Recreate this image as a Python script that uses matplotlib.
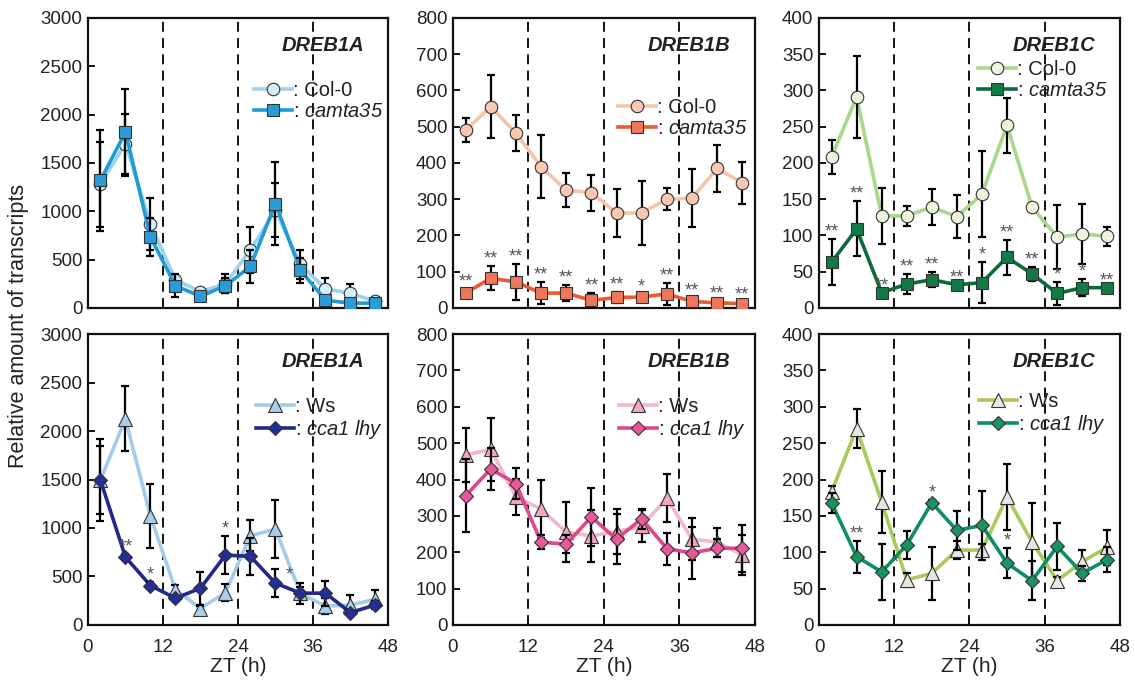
import matplotlib
matplotlib.use('Agg')
import matplotlib.pyplot as plt

plt.rcParams['font.family'] = ['Liberation Sans', 'DejaVu Sans']
plt.rcParams['mathtext.fontset'] = 'custom'
plt.rcParams['mathtext.rm'] = 'Liberation Sans:italic'
plt.rcParams['mathtext.it'] = 'Liberation Sans:italic'

TICK_SIZE = 13.5
LABEL_SIZE = 15
GENE_SIZE = 14.5
LEGEND_SIZE = 14.5
TEXT_COLOR = '#222222'

# sampling times (ZT, h)
zt = [2, 6, 10, 14, 18, 22, 26, 30, 34, 38, 42, 46]

# --- top row: Col-0 vs camta35 ---
col_a = [1280, 1700, 870, 290, 170, 250, 600, 1010, 450, 200, 150, 70]
col_a_err = [440, 310, 270, 30, 30, 100, 240, 280, 150, 110, 100, 10]
cam_a = [1320, 1820, 735, 230, 120, 230, 430, 1080, 390, 80, 50, 50]
cam_a_err = [520, 450, 200, 120, 30, 80, 170, 430, 130, 30, 20, 10]
stars_cam_a = [''] * 12

col_b = [490, 555, 482, 390, 325, 318, 262, 262, 300, 303, 385, 345]
col_b_err = [33, 87, 49, 87, 47, 50, 65, 87, 30, 80, 65, 58]
cam_b = [41, 82, 72, 41, 41, 21, 29, 30, 39, 18, 14, 12]
cam_b_err = [12, 33, 50, 30, 23, 20, 15, 8, 30, 8, 5, 5]
stars_cam_b = ['**', '**', '**', '**', '**', '**', '**', '*', '**', '**', '**', '**']

col_c = [208, 291, 127, 127, 139, 126, 157, 252, 139, 98, 102, 99]
col_c_err = [23, 56, 39, 14, 25, 30, 59, 38, 0, 44, 42, 13]
cam_c = [63, 109, 21, 33, 39, 32, 35, 70, 47, 20, 28, 28]
cam_c_err = [32, 38, 0, 14, 10, 0, 28, 24, 10, 16, 12, 0]
stars_cam_c = ['**', '**', '**', '**', '**', '**', '*', '**', '**', '*', '*', '**']

# --- bottom row: Ws vs cca1 lhy ---
ws_a = [1495, 2125, 1121, 365, 170, 335, 921, 988, 325, 195, 205, 266]
ws_a_err = [420, 335, 330, 50, 30, 85, 160, 300, 70, 80, 100, 95]
cca_a = [1493, 700, 407, 276, 379, 721, 707, 431, 328, 328, 128, 207]
cca_a_err = [350, 30, 40, 20, 170, 200, 190, 145, 110, 130, 30, 40]
stars_cca_a = ['', '**', '*', '', '', '*', '', '*', '', '', '', '']

ws_b = [467, 483, 352, 319, 255, 245, 257, 271, 349, 236, 228, 193]
ws_b_err = [75, 87, 50, 80, 83, 72, 62, 44, 65, 58, 40, 55]
cca_b = [355, 429, 389, 228, 222, 297, 236, 292, 210, 198, 211, 211]
cca_b_err = [100, 57, 43, 20, 25, 80, 68, 27, 44, 72, 25, 65]
stars_cca_b = [''] * 12

ws_c = [183, 270, 169, 62, 71, 103, 103, 176, 114, 61, 87, 107]
ws_c_err = [8, 27, 42, 10, 36, 12, 8, 45, 54, 5, 16, 24]
cca_c = [168, 94, 73, 110, 168, 130, 137, 85, 61, 108, 71, 90]
cca_c_err = [14, 22, 38, 19, 4, 27, 47, 21, 27, 32, 10, 17]
stars_cca_c = ['', '**', '*', '', '*', '', '', '*', '', '', '', '']

genes = ['DREB1A', 'DREB1B', 'DREB1C']
y_max = [3000, 800, 400]
y_step = [500, 100, 50]


def draw_series(ax, y, err, line_color, face_color, marker, msize, label, z):
    ax.plot(zt, y, color=line_color, lw=2.6, zorder=z, solid_joinstyle='round')
    ax.errorbar(zt, y, yerr=err, fmt='none', ecolor='black', elinewidth=1.6,
                capsize=3, capthick=1.6, zorder=z + 0.5)
    ax.plot(zt, y, linestyle='none', marker=marker, markersize=msize,
            markerfacecolor=face_color, markeredgecolor='#333333',
            markeredgewidth=0.8, zorder=z + 0.8)
    # proxy handle for the legend: line with marker
    handle, = ax.plot([], [], color=line_color, lw=2.6, marker=marker,
                      markersize=msize, markerfacecolor=face_color,
                      markeredgecolor='#333333', markeredgewidth=0.8)
    handle.set_label(label)
    return handle


def draw_stars(ax, y, err, stars, side=()):
    for i, s in enumerate(stars):
        if not s:
            continue
        if i in side:
            ax.annotate(s, (zt[i], y[i]), xytext=(10, 0), textcoords='offset points',
                        ha='center', va='bottom', fontsize=13, color='#555555')
        else:
            ax.annotate(s, (zt[i], y[i] + err[i]), xytext=(0, -1),
                        textcoords='offset points', ha='center', va='bottom',
                        fontsize=13, color='#555555')


def style_axes(ax, col, bottom):
    ax.set_xlim(0, 48)
    ax.set_ylim(0, y_max[col])
    ax.set_xticks([0, 12, 24, 36, 48])
    ax.set_yticks(range(0, y_max[col] + 1, y_step[col]))
    for x in (12, 24, 36):
        ax.axvline(x, color='black', lw=1.3, ls=(0, (5.5, 3.5)), zorder=1)
    for sp in ax.spines.values():
        sp.set_linewidth(1.6)
        sp.set_color('#111111')
    ax.tick_params(direction='in', length=5, width=1.4, labelsize=TICK_SIZE,
                   colors='#111111', labelcolor=TEXT_COLOR)
    ax.tick_params(axis='y', pad=4)
    ax.tick_params(axis='x', pad=10)
    if bottom:
        ax.set_xlabel('ZT (h)', fontsize=LABEL_SIZE, color=TEXT_COLOR, labelpad=1)
    else:
        ax.set_xticklabels([])
    ax.text(0.92, 0.905, genes[col], transform=ax.transAxes, ha='right',
            va='center', fontsize=GENE_SIZE, fontweight='bold', style='italic',
            color=TEXT_COLOR)


fig = plt.figure(figsize=(11.35, 6.85), dpi=100)

lefts = [0.0775, 0.3991, 0.7216]
widths = [0.2643, 0.2660, 0.2650]
top_row = (0.5504, 0.4234)
bot_row = (0.0876, 0.4248)

# legend anchors (axes fraction, upper right corner)
leg_top = [(0.985, 0.783), (0.975, 0.723), (0.96, 0.855)]
leg_bot = [(0.985, 0.782), (0.97, 0.785), (0.955, 0.80)]

top_sets = [
    (col_a, col_a_err, cam_a, cam_a_err, stars_cam_a,
     '#9ed2ec', '#d3eef8', '#1f9bd7', '#2a9dd9'),
    (col_b, col_b_err, cam_b, cam_b_err, stars_cam_b,
     '#f6c4a9', '#f8c8b2', '#ee5a30', '#f0775a'),
    (col_c, col_c_err, cam_c, cam_c_err, stars_cam_c,
     '#a9d78c', '#eef4dc', '#0d6b3b', '#127a44'),
]
bot_sets = [
    (ws_a, ws_a_err, cca_a, cca_a_err, stars_cca_a, (7,),
     '#a4cbea', '#a9cdec', '#1f2a8c', '#232e96'),
    (ws_b, ws_b_err, cca_b, cca_b_err, stars_cca_b, (),
     '#f4b6ca', '#f1a9c1', '#e0468a', '#e8589b'),
    (ws_c, ws_c_err, cca_c, cca_c_err, stars_cca_c, (2,),
     '#a9c95a', '#e4e8e1', '#0f8f61', '#18945f'),
]

for col in range(3):
    # top row
    ax = fig.add_axes([lefts[col], top_row[0], widths[col], top_row[1]])
    wt, wt_err, mu, mu_err, stars, lc1, fc1, lc2, fc2 = top_sets[col]
    h1 = draw_series(ax, wt, wt_err, lc1, fc1, 'o', 9, ': Col-0', 2)
    h2 = draw_series(ax, mu, mu_err, lc2, fc2, 's', 8.5,
                     r': $\mathrm{camta35}$', 3)
    draw_stars(ax, mu, mu_err, stars)
    style_axes(ax, col, False)
    ax.legend(handles=[h1, h2], loc='upper right', bbox_to_anchor=leg_top[col],
              frameon=False, fontsize=LEGEND_SIZE, handlelength=1.9,
              handletextpad=0.05, labelspacing=0.1, borderpad=0,
              borderaxespad=0, numpoints=1, labelcolor=TEXT_COLOR)

    # bottom row
    ax = fig.add_axes([lefts[col], bot_row[0], widths[col], bot_row[1]])
    wt, wt_err, mu, mu_err, stars, side, lc1, fc1, lc2, fc2 = bot_sets[col]
    h1 = draw_series(ax, wt, wt_err, lc1, fc1, '^', 9.5, ': Ws', 2)
    h2 = draw_series(ax, mu, mu_err, lc2, fc2, 'D', 7.5,
                     r': $\mathrm{cca1\ lhy}$', 3)
    draw_stars(ax, mu, mu_err, stars, side)
    style_axes(ax, col, True)
    ax.legend(handles=[h1, h2], loc='upper right', bbox_to_anchor=leg_bot[col],
              frameon=False, fontsize=LEGEND_SIZE, handlelength=1.9,
              handletextpad=0.05, labelspacing=0.1, borderpad=0,
              borderaxespad=0, numpoints=1, labelcolor=TEXT_COLOR)

fig.text(0.016, 0.524, 'Relative amount of transcripts', rotation=90,
         ha='center', va='center', fontsize=15.5, color=TEXT_COLOR)

fig.savefig('out.png', dpi=100)
